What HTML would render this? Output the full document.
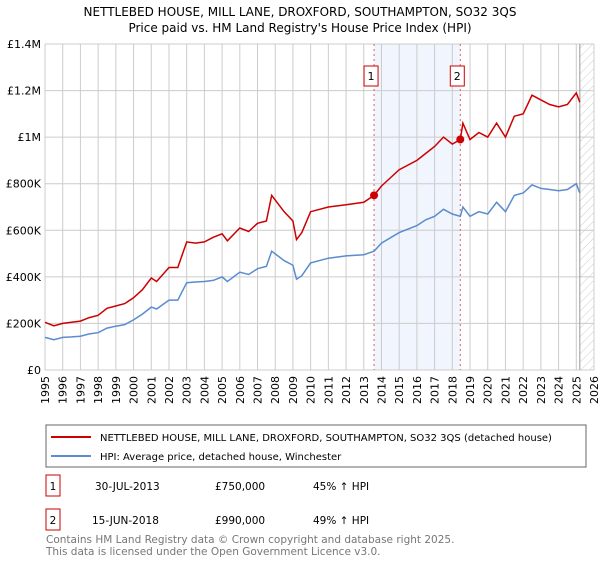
<!DOCTYPE html>
<html><head><meta charset="utf-8"><style>
body{margin:0;background:#fff;font-family:"Liberation Sans","DejaVu Sans",sans-serif;}
svg text{font-family:"DejaVu Sans","Liberation Sans",sans-serif;}
</style></head><body>
<svg width="600" height="560" viewBox="0 0 600 560">
<defs><pattern id="hatch" width="6" height="6" patternUnits="userSpaceOnUse" patternTransform="rotate(45)"><line x1="0" y1="0" x2="0" y2="6" stroke="#ccc" stroke-width="1"/></pattern></defs>
<text x="300" y="16" text-anchor="middle" font-size="12">NETTLEBED HOUSE, MILL LANE, DROXFORD, SOUTHAMPTON, SO32 3QS</text>
<text x="300" y="32" text-anchor="middle" font-size="12">Price paid vs. HM Land Registry's House Price Index (HPI)</text>
<g id="plot"></g>
<g>
<rect x="46" y="425" width="540" height="42" fill="#fff" stroke="#666"/>
<line x1="51" y1="437" x2="91" y2="437" stroke="#cc0000" stroke-width="2"/>
<text x="100" y="441" font-size="10">NETTLEBED HOUSE, MILL LANE, DROXFORD, SOUTHAMPTON, SO32 3QS (detached house)</text>
<line x1="51" y1="456" x2="91" y2="456" stroke="#5b8bd0" stroke-width="2"/>
<text x="100" y="460" font-size="10">HPI: Average price, detached house, Winchester</text>
</g>
<g font-size="10.5">
<rect x="46" y="475" width="14" height="21" fill="#fff" stroke="#cc0000"/><text x="53" y="490" text-anchor="middle">1</text>
<text x="95" y="490">30-JUL-2013</text><text x="215" y="490">£750,000</text><text x="313" y="490">45% ↑ HPI</text>
<rect x="46" y="509" width="14" height="21" fill="#fff" stroke="#cc0000"/><text x="53" y="524" text-anchor="middle">2</text>
<text x="92" y="524">15-JUN-2018</text><text x="215" y="524">£990,000</text><text x="313" y="524">49% ↑ HPI</text>
</g>
<text x="46" y="543" font-size="10.5" fill="#777">Contains HM Land Registry data © Crown copyright and database right 2025.</text>
<text x="46" y="555" font-size="10.5" fill="#777">This data is licensed under the Open Government Licence v3.0.</text>
</svg>
<script>
const years=[1995,1995.5,1996,1996.5,1997,1997.5,1998,1998.5,1999,1999.5,2000,2000.5,2001,2001.3,2002,2002.5,2003,2003.5,2004,2004.5,2005,2005.3,2006,2006.5,2007,2007.5,2007.8,2008.5,2009,2009.2,2009.5,2010,2011,2012,2013,2013.58,2014,2015,2016,2016.5,2017,2017.5,2018,2018.45,2018.6,2019,2019.5,2020,2020.5,2021,2021.5,2022,2022.5,2023,2023.5,2024,2024.5,2025,2025.2];
const priceSeries=[205,190,200,205,210,225,235,265,275,285,310,345,395,380,440,440,550,545,550,570,585,555,610,595,630,640,750,680,640,560,590,680,700,710,720,750,790,860,900,930,960,1000,970,990,1060,990,1020,1000,1060,1000,1090,1100,1180,1160,1140,1130,1140,1190,1150];
const hpiSeries=[140,130,140,142,145,155,160,180,188,195,215,240,270,262,300,300,375,378,380,385,400,380,420,410,435,445,510,470,450,390,405,460,480,490,495,510,545,590,620,645,660,690,670,660,700,660,680,670,720,680,750,760,795,780,775,770,775,800,760];
const sales=[{year:2013.58,value:750,label:"1"},{year:2018.45,value:990,label:"2"}];
const yTickValues=[0,200,400,600,800,1000,1200,1400];
const yTickLabels=["£0","£200K","£400K","£600K","£800K","£1M","£1.2M","£1.4M"];
const xTickYears=[1995,1996,1997,1998,1999,2000,2001,2002,2003,2004,2005,2006,2007,2008,2009,2010,2011,2012,2013,2014,2015,2016,2017,2018,2019,2020,2021,2022,2023,2024,2025,2026];

const X0=45,X1=594,Y0=370,Y1=44;
const xs=y=>X0+(y-1995)/(2026-1995)*(X1-X0);
const ys=v=>Y0-v/1400*(Y0-Y1);
const NS="http://www.w3.org/2000/svg";
const g=document.getElementById('plot');
function mk(t,a){const e=document.createElementNS(NS,t);for(const k in a)e.setAttribute(k,a[k]);g.appendChild(e);return e;}
let e;
e=mk('rect',{x:xs(sales[0].year),y:Y1,width:xs(sales[1].year)-xs(sales[0].year),height:Y0-Y1,fill:'#eef3fd',opacity:0.8});


e=mk('rect',{x:xs(2025.2),y:Y1,width:X1-xs(2025.2),height:Y0-Y1,fill:'url(#hatch)'});


xTickYears.forEach(y=>{
 e=mk('line',{x1:xs(y),x2:xs(y),y1:Y1,y2:Y0,stroke:'#ccc'});
 
 
 e=mk('text',{transform:`translate(${xs(y)+4},${Y0+6}) rotate(-90)`,'text-anchor':'end','font-size':11});
 e.textContent=y;
 
 
});
yTickValues.forEach((v,i)=>{
 e=mk('line',{x1:X0,x2:X1,y1:ys(v),y2:ys(v),stroke:'#ccc'});
 
 
 e=mk('text',{x:X0-4,y:ys(v)+4,'text-anchor':'end','font-size':11});
 e.textContent=yTickLabels[i];
 
 
});
e=mk('line',{x1:xs(2025.2),x2:xs(2025.2),y1:Y1,y2:Y0,stroke:'#999'});


sales.forEach(s=>{
 e=mk('line',{x1:xs(s.year),x2:xs(s.year),y1:Y1,y2:Y0,stroke:'#e06060','stroke-dasharray':'2,3'});
 
 
});
const pts=a=>a.map((v,i)=>xs(years[i]).toFixed(1)+','+ys(v).toFixed(1)).join(' ');
e=mk('polyline',{points:pts(hpiSeries),fill:'none',stroke:'#5b8bd0','stroke-width':1.5});


e=mk('polyline',{points:pts(priceSeries),fill:'none',stroke:'#cc0000','stroke-width':1.5});


sales.forEach(s=>{
 e=mk('circle',{cx:xs(s.year),cy:ys(s.value),r:4,fill:'#cc0000'});
 
 
 e=mk('rect',{x:xs(s.year)-10,y:66,width:14,height:20,fill:'#fff',stroke:'#cc0000'});
 
 
 e=mk('text',{x:xs(s.year)-3,y:80,'text-anchor':'middle','font-size':11});
 e.textContent=s.label;
 
 
});
</script>
</body></html>
